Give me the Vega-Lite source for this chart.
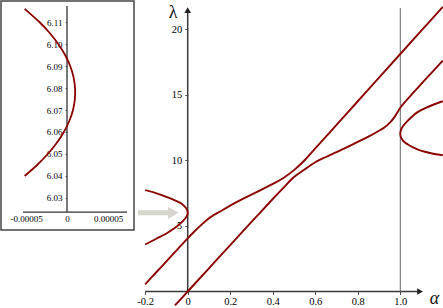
{
  "$schema": "https://vega.github.io/schema/vega-lite/v6.json",
  "padding": 0,
  "spacing": 3,
  "bounds": "flush",
  "config": {"view": {"stroke": null}, "font": "Liberation Serif"},
  "hconcat": [
    {
      "width": 133,
      "height": 229,
      "view": {"stroke": "#444", "strokeWidth": 1.5},
      "encoding": {
        "x": {"field": "x", "type": "quantitative", "scale": {"domain": [-0.0000805, 0.0000817], "nice": false, "zero": false},
          "axis": {"orient": "bottom", "offset": -18.3, "values": [-0.00005, 0, 0.00005], "domain": false, "ticks": false, "grid": false,
            "labelPadding": 3, "labelFontSize": 9, "labelColor": "#000", "labelFlush": false, "labelOverlap": false,
            "labelExpr": "datum.value == 0 ? '0' : (datum.value < 0 ? '-' + format(-datum.value, '.5f') : format(datum.value, '.5f'))",
            "title": null}},
        "y": {"field": "y", "type": "quantitative", "scale": {"domain": [6.01545, 6.11955], "nice": false, "zero": false},
          "axis": {"orient": "left", "offset": -66, "values": [6.03, 6.04, 6.05, 6.06, 6.07, 6.08, 6.09, 6.10, 6.11], "domain": false,
            "tickSize": 2, "tickColor": "#777", "labelPadding": 3, "labelFontSize": 9, "labelColor": "#000", "format": ".2f",
            "grid": false, "title": null, "labelFlush": false, "labelOverlap": false}}
      },
      "layer": [
        {
          "data": {"values": [{"x": 0, "y": 6.0236, "y2": 6.1173}]},
          "mark": {"type": "rule", "color": "#333", "strokeWidth": 1.3},
          "encoding": {"y2": {"field": "y2"}}
        },
        {
          "data": {"values": [{"x": -0.0000537, "x2": 0.0000732, "y": 6.0236}]},
          "mark": {"type": "rule", "color": "#333", "strokeWidth": 1.3},
          "encoding": {"x2": {"field": "x2"}}
        },
        {
          "data": {"values": [
            {"s": 1, "x": -0.0000517, "y": 6.040},
            {"s": 2, "x": -0.0000365, "y": 6.045},
            {"s": 3, "x": -0.0000235, "y": 6.050},
            {"s": 4, "x": -0.0000126, "y": 6.055},
            {"s": 5, "x": -0.0000038, "y": 6.060},
            {"s": 6, "x": 0.0000028, "y": 6.065},
            {"s": 7, "x": 0.0000073, "y": 6.070},
            {"s": 8, "x": 0.0000096, "y": 6.075},
            {"s": 9, "x": 0.0000098, "y": 6.080},
            {"s": 10, "x": 0.0000079, "y": 6.085},
            {"s": 11, "x": 0.0000039, "y": 6.090},
            {"s": 12, "x": -0.0000023, "y": 6.095},
            {"s": 13, "x": -0.0000107, "y": 6.100},
            {"s": 14, "x": -0.0000211, "y": 6.105},
            {"s": 15, "x": -0.0000337, "y": 6.110},
            {"s": 16, "x": -0.0000517, "y": 6.116}
          ]},
          "mark": {"type": "line", "color": "#8B0000", "strokeWidth": 1.8, "interpolate": "catmull-rom"},
          "encoding": {"order": {"field": "s", "type": "quantitative"}}
        }
      ]
    },
    {
      "width": 307,
      "height": 308,
      "encoding": {
        "x": {"field": "x", "type": "quantitative", "scale": {"domain": [-0.2385, 1.2056], "nice": false, "zero": false},
          "axis": {"orient": "bottom", "offset": -17.5, "values": [-0.2, 0, 0.2, 0.4, 0.6, 0.8, 1.0], "domain": false,
            "tickSize": 3, "tickColor": "#555", "labelPadding": 2, "labelFontSize": 10.5, "labelColor": "#000",
            "labelFlush": false, "labelOverlap": false, "grid": false,
            "labelExpr": "datum.value == 0 ? '0' : (datum.value < 0 ? '-' + format(-datum.value, '.1f') : format(datum.value, '.1f'))",
            "title": "α", "titleFontStyle": "italic", "titleFontSize": 18, "titleFontWeight": "normal", "titleColor": "#111",
            "titleX": 297, "titleY": 12, "titleAlign": "center", "titleBaseline": "alphabetic"}},
        "y": {"field": "y", "type": "quantitative", "scale": {"domain": [-1.334, 22.14], "nice": false, "zero": false},
          "axis": {"orient": "left", "offset": -50.7, "values": [5, 10, 15, 20], "domain": false,
            "tickSize": 3, "tickColor": "#555", "labelPadding": 3, "labelFontSize": 10.5, "labelColor": "#000",
            "labelFlush": false, "labelOverlap": false, "grid": false,
            "title": "λ", "titleAngle": 0, "titleFontSize": 18, "titleFontWeight": "normal", "titleColor": "#111",
            "titleX": -15, "titleY": 11, "titleAlign": "center", "titleBaseline": "middle"}}
      },
      "layer": [
        {
          "data": {"values": [{"x": -0.234, "x2": -0.085, "y": 6.0}]},
          "mark": {"type": "rule", "color": "#d6d6ce", "strokeWidth": 5},
          "encoding": {"x2": {"field": "x2"}}
        },
        {
          "data": {"values": [{"x": -0.068, "y": 6.0}]},
          "mark": {"type": "point", "shape": "triangle-right", "size": 150, "filled": true, "color": "#d6d6ce", "opacity": 1}
        },
        {
          "data": {"values": [{"x": -0.2, "x2": 1.09, "y": 0}]},
          "mark": {"type": "rule", "color": "#3a3a3a", "strokeWidth": 1.5},
          "encoding": {"x2": {"field": "x2"}}
        },
        {
          "data": {"values": [{"x": 0, "y": 0, "y2": 21.4}]},
          "mark": {"type": "rule", "color": "#3a3a3a", "strokeWidth": 1.5},
          "encoding": {"y2": {"field": "y2"}}
        },
        {
          "data": {"values": [{"x": 1.0, "y": 0, "y2": 21.6}]},
          "mark": {"type": "rule", "color": "#666", "strokeWidth": 1},
          "encoding": {"y2": {"field": "y2"}}
        },
        {
          "data": {"values": [{"x": 0, "y": 21.45}]},
          "mark": {"type": "point", "shape": "triangle-up", "size": 45, "filled": true, "color": "#222", "opacity": 1}
        },
        {
          "data": {"values": [{"x": 1.093, "y": 0}]},
          "mark": {"type": "point", "shape": "triangle-right", "size": 45, "filled": true, "color": "#222", "opacity": 1}
        },
        {
          "data": {"values": [
            {"c": "U", "s": 1, "x": -0.2, "y": 0.55},
            {"c": "U", "s": 2, "x": -0.15, "y": 1.43},
            {"c": "U", "s": 3, "x": -0.1, "y": 2.3},
            {"c": "U", "s": 4, "x": -0.05, "y": 3.18},
            {"c": "U", "s": 5, "x": 0, "y": 4.05},
            {"c": "U", "s": 6, "x": 0.03, "y": 4.55},
            {"c": "U", "s": 7, "x": 0.06, "y": 5.02},
            {"c": "U", "s": 8, "x": 0.09, "y": 5.45},
            {"c": "U", "s": 9, "x": 0.12, "y": 5.8},
            {"c": "U", "s": 10, "x": 0.15, "y": 6.08},
            {"c": "U", "s": 11, "x": 0.2, "y": 6.55},
            {"c": "U", "s": 12, "x": 0.25, "y": 6.98},
            {"c": "U", "s": 13, "x": 0.3, "y": 7.38},
            {"c": "U", "s": 14, "x": 0.35, "y": 7.78},
            {"c": "U", "s": 15, "x": 0.4, "y": 8.2},
            {"c": "U", "s": 16, "x": 0.45, "y": 8.65},
            {"c": "U", "s": 17, "x": 0.5, "y": 9.25},
            {"c": "U", "s": 18, "x": 0.55, "y": 10.0},
            {"c": "U", "s": 19, "x": 0.6, "y": 10.9},
            {"c": "U", "s": 20, "x": 0.7, "y": 12.7},
            {"c": "U", "s": 21, "x": 0.8, "y": 14.5},
            {"c": "U", "s": 22, "x": 0.9, "y": 16.3},
            {"c": "U", "s": 23, "x": 1.0, "y": 18.1},
            {"c": "U", "s": 24, "x": 1.1, "y": 19.9},
            {"c": "U", "s": 25, "x": 1.2, "y": 21.7},
            {"c": "L", "s": 1, "x": -0.06, "y": -1.06},
            {"c": "L", "s": 2, "x": 0, "y": 0},
            {"c": "L", "s": 3, "x": 0.1, "y": 1.77},
            {"c": "L", "s": 4, "x": 0.2, "y": 3.54},
            {"c": "L", "s": 5, "x": 0.3, "y": 5.3},
            {"c": "L", "s": 6, "x": 0.4, "y": 7.05},
            {"c": "L", "s": 7, "x": 0.45, "y": 7.9},
            {"c": "L", "s": 8, "x": 0.5, "y": 8.72},
            {"c": "L", "s": 9, "x": 0.55, "y": 9.3},
            {"c": "L", "s": 10, "x": 0.6, "y": 9.85},
            {"c": "L", "s": 11, "x": 0.65, "y": 10.25},
            {"c": "L", "s": 12, "x": 0.7, "y": 10.62},
            {"c": "L", "s": 13, "x": 0.75, "y": 11.0},
            {"c": "L", "s": 14, "x": 0.8, "y": 11.4},
            {"c": "L", "s": 15, "x": 0.85, "y": 11.8},
            {"c": "L", "s": 16, "x": 0.9, "y": 12.25},
            {"c": "L", "s": 17, "x": 0.925, "y": 12.5},
            {"c": "L", "s": 18, "x": 0.95, "y": 12.85},
            {"c": "L", "s": 19, "x": 0.975, "y": 13.35},
            {"c": "L", "s": 20, "x": 1.0, "y": 14.0},
            {"c": "L", "s": 21, "x": 1.025, "y": 14.5},
            {"c": "L", "s": 22, "x": 1.05, "y": 14.95},
            {"c": "L", "s": 23, "x": 1.1, "y": 15.85},
            {"c": "L", "s": 24, "x": 1.15, "y": 16.72},
            {"c": "L", "s": 25, "x": 1.2, "y": 17.6},
            {"c": "P1", "s": 1, "x": -0.2, "y": 7.72},
            {"c": "P1", "s": 2, "x": -0.15, "y": 7.5},
            {"c": "P1", "s": 3, "x": -0.1, "y": 7.22},
            {"c": "P1", "s": 4, "x": -0.06, "y": 6.95},
            {"c": "P1", "s": 5, "x": -0.03, "y": 6.7},
            {"c": "P1", "s": 6, "x": -0.01, "y": 6.4},
            {"c": "P1", "s": 7, "x": -0.0025, "y": 6.2},
            {"c": "P1", "s": 8, "x": 0, "y": 6.0},
            {"c": "P1", "s": 9, "x": -0.0025, "y": 5.8},
            {"c": "P1", "s": 10, "x": -0.01, "y": 5.6},
            {"c": "P1", "s": 11, "x": -0.03, "y": 5.25},
            {"c": "P1", "s": 12, "x": -0.06, "y": 4.85},
            {"c": "P1", "s": 13, "x": -0.1, "y": 4.42},
            {"c": "P1", "s": 14, "x": -0.15, "y": 4.0},
            {"c": "P1", "s": 15, "x": -0.2, "y": 3.58},
            {"c": "P2", "s": 1, "x": 1.2, "y": 14.5},
            {"c": "P2", "s": 2, "x": 1.16, "y": 14.27},
            {"c": "P2", "s": 3, "x": 1.12, "y": 14.0},
            {"c": "P2", "s": 4, "x": 1.083, "y": 13.69},
            {"c": "P2", "s": 5, "x": 1.06, "y": 13.4},
            {"c": "P2", "s": 6, "x": 1.036, "y": 13.03},
            {"c": "P2", "s": 7, "x": 1.015, "y": 12.65},
            {"c": "P2", "s": 8, "x": 1.004, "y": 12.35},
            {"c": "P2", "s": 9, "x": 1.0, "y": 12.0},
            {"c": "P2", "s": 10, "x": 1.004, "y": 11.72},
            {"c": "P2", "s": 11, "x": 1.015, "y": 11.45},
            {"c": "P2", "s": 12, "x": 1.036, "y": 11.2},
            {"c": "P2", "s": 13, "x": 1.06, "y": 10.98},
            {"c": "P2", "s": 14, "x": 1.083, "y": 10.82},
            {"c": "P2", "s": 15, "x": 1.12, "y": 10.63},
            {"c": "P2", "s": 16, "x": 1.16, "y": 10.48},
            {"c": "P2", "s": 17, "x": 1.2, "y": 10.38}
          ]},
          "mark": {"type": "line", "color": "#8B0000", "strokeWidth": 1.9, "interpolate": "catmull-rom"},
          "encoding": {
            "detail": {"field": "c", "type": "nominal"},
            "order": {"field": "s", "type": "quantitative"}
          }
        }
      ]
    }
  ]
}
